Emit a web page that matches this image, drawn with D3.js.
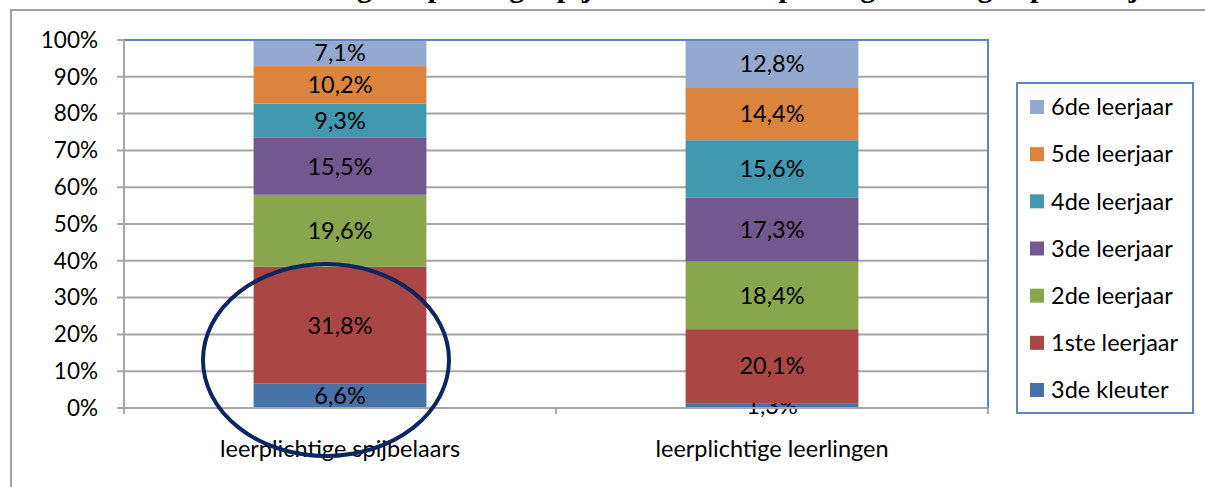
<!DOCTYPE html>
<html><head><meta charset="utf-8">
<script src="https://cdn.jsdelivr.net/npm/d3@7"></script>
<style>body{margin:0;background:#fff}svg{display:block}</style>
</head><body>
<svg id="c" width="1205" height="487"></svg>
<script>
const categories = ["leerplichtige spijbelaars", "leerplichtige leerlingen"];
const seriesNames = ["3de kleuter","1ste leerjaar","2de leerjaar","3de leerjaar","4de leerjaar","5de leerjaar","6de leerjaar"];
const spijbelaars = [6.6, 31.8, 19.6, 15.5, 9.3, 10.2, 7.1];
const leerlingen  = [1.3, 20.1, 18.4, 17.3, 15.6, 14.4, 12.8];
const seriesColors = ["#4672a8","#aa4643","#89a54e","#71588f","#4198af","#db843d","#93a9cf"];
const yTicks = [0,0.1,0.2,0.3,0.4,0.5,0.6,0.7,0.8,0.9,1];
const titleText = "Verdeling leerplichtige spijbelaars en leerplichtige leerlingen per leerjaar";

const svg = d3.select("#c");
const font = "Lato, 'Open Sans', sans-serif";
const L = 124, R = 988, T = 40, B = 408;

// outer frame
svg.append("path").attr("d","M11,487 V10 H1205").attr("fill","none").attr("stroke","#a0a0a0").attr("stroke-width",2);
// cut-off title (only descenders visible, as in the reference)
svg.append("text").attr("x",715).attr("y",-3).attr("text-anchor","middle")
  .attr("font-family","'Liberation Serif', serif").attr("font-weight","bold").attr("font-size",30)
  .attr("fill","#000").text(titleText);

const rows = categories.map((c,i)=>{
  const vals = i===0 ? spijbelaars : leerlingen;
  const o = {cat:c};
  seriesNames.forEach((s,j)=>o[s]=vals[j]);
  return o;
});
const stack = d3.stack().keys(seriesNames).offset(d3.stackOffsetExpand);
const layers = stack(rows);

const x = d3.scaleBand().domain(categories).range([L,R]).paddingInner(0.6).paddingOuter(0.3);
const y = d3.scaleLinear().domain([0,1]).range([B,T]);

// gridlines
svg.append("g").selectAll("line").data(yTicks.filter(t=>t>0 && t<1)).join("line")
  .attr("x1",L-7).attr("x2",R).attr("y1",d=>y(d)).attr("y2",d=>y(d))
  .attr("stroke","#a6a6a6").attr("stroke-width",2);
svg.append("line").attr("x1",L-7).attr("x2",L).attr("y1",y(1)).attr("y2",y(1)).attr("stroke","#a6a6a6").attr("stroke-width",2);

// bars
const lay = svg.append("g").selectAll("g").data(layers).join("g").attr("fill",(d,i)=>seriesColors[i]);
lay.selectAll("rect").data(d=>d).join("rect")
  .attr("x",d=>x(d.data.cat)).attr("width",x.bandwidth())
  .attr("y",d=>y(d[1])).attr("height",d=>y(d[0])-y(d[1]));

// plot border top & right (blue)
svg.append("path").attr("d",`M${L},${T} H${R} V${B}`).attr("fill","none").attr("stroke","#5b87c4").attr("stroke-width",2);

// y axis
const yAxis = d3.axisLeft(y).tickValues(yTicks).tickFormat(d=>Math.round(d*100)+"%").tickSize(0).tickPadding(26);
const ya = svg.append("g").attr("transform",`translate(${L},0)`).call(yAxis);
ya.select(".domain").remove();
ya.selectAll("text").attr("font-family",font).attr("font-size",22.5).attr("fill","#000");
svg.append("line").attr("x1",L).attr("x2",L).attr("y1",T).attr("y2",B+6).attr("stroke","#a6a6a6").attr("stroke-width",2);
svg.append("line").attr("x1",L-7).attr("x2",R).attr("y1",B).attr("y2",B).attr("stroke","#a6a6a6").attr("stroke-width",2);
const bounds = [L, (L+R)/2, R];
svg.append("g").selectAll("line").data(bounds).join("line")
  .attr("x1",d=>d).attr("x2",d=>d).attr("y1",B).attr("y2",B+6).attr("stroke","#a6a6a6").attr("stroke-width",2);

// x labels
const xAxis = d3.axisBottom(x).tickSize(0).tickPadding(32);
const xa = svg.append("g").attr("transform",`translate(0,${B})`).call(xAxis);
xa.select(".domain").remove();
xa.selectAll("text").attr("font-family",font).attr("font-size",23.5).attr("fill","#000");

// data labels
lay.selectAll("text").data(d=>d).join("text")
  .attr("x",d=>x(d.data.cat)+x.bandwidth()/2)
  .attr("y",d=>(y(d[0])+y(d[1]))/2).attr("dy","0.35em")
  .attr("text-anchor","middle").attr("font-family",font).attr("font-size",23.5).attr("fill","#000")
  .text(function(d){const k=d3.select(this.parentNode).datum().key; return d3.format(".1f")(d.data[k]).replace(".",",")+"%";});

// legend
const lg = svg.append("g");
lg.append("rect").attr("x",1017).attr("y",83).attr("width",176).attr("height",330)
  .attr("fill","#fff").attr("stroke","#5b87c4").attr("stroke-width",2);
const legendOrder = seriesNames.slice().reverse();
const ly = d3.scalePoint().domain(legendOrder).range([107,390]);
const li = lg.selectAll("g").data(legendOrder).join("g").attr("transform",d=>`translate(1030,${ly(d)})`);
li.append("rect").attr("x",0).attr("y",-7).attr("width",14).attr("height",14)
  .attr("fill",d=>seriesColors[seriesNames.indexOf(d)]);
li.append("text").attr("x",21).attr("dy","0.35em").attr("font-family",font).attr("font-size",23.5).attr("fill","#000").text(d=>d);

// ellipse annotation
svg.append("ellipse").attr("cx",326).attr("cy",360).attr("rx",123).attr("ry",96)
  .attr("fill","none").attr("stroke","#0d2561").attr("stroke-width",4);
</script>
</body></html>
